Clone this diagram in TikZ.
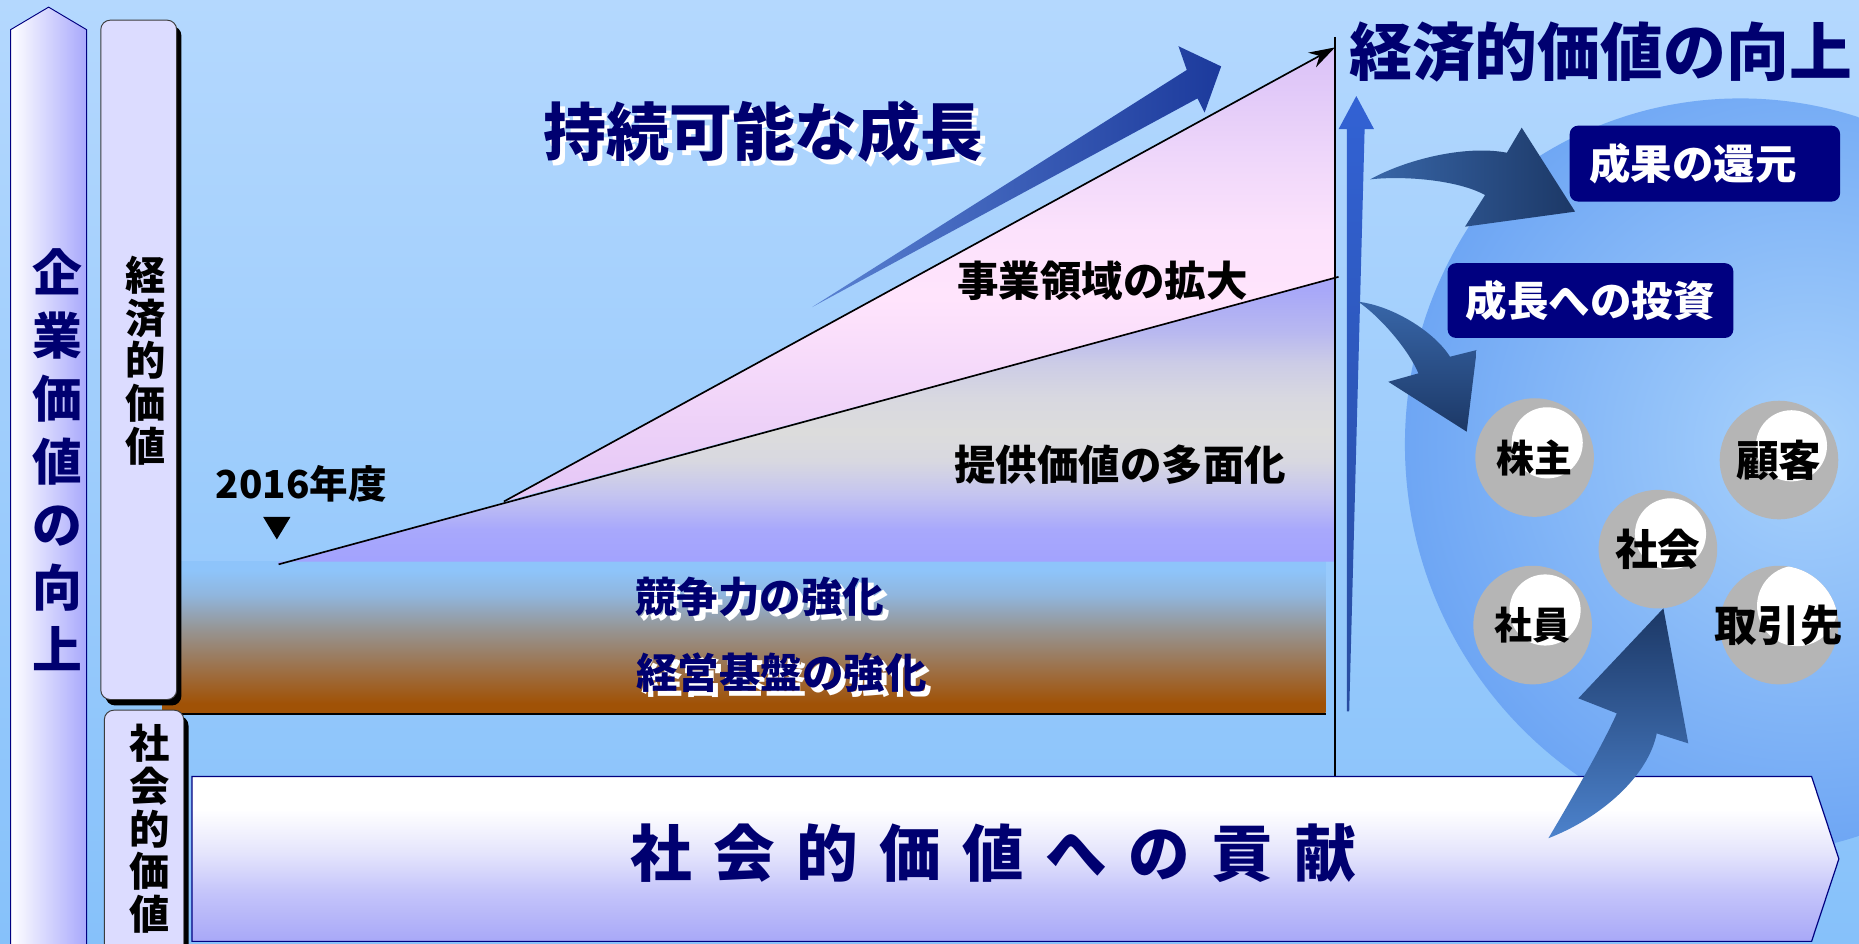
\documentclass[tikz,border=0pt]{standalone}
\usepackage{fontspec}
\setmainfont{Noto Sans CJK JP}
\usetikzlibrary{arrows.meta,shadows}
\definecolor{bgtop}{RGB}{180,216,254}
\definecolor{bgbot}{RGB}{134,193,250}
\definecolor{navytxt}{RGB}{0,0,112}
\definecolor{navybox}{RGB}{0,0,128}
\definecolor{lav}{RGB}{168,168,252}
\definecolor{boxfill}{RGB}{220,220,255}
\definecolor{circgray}{RGB}{181,181,181}
\definecolor{bigin}{RGB}{168,210,252}
\definecolor{bigout}{RGB}{110,166,244}
\definecolor{arrdark}{RGB}{28,56,102}
\definecolor{arrmid}{RGB}{76,130,204}
\definecolor{arrlight}{RGB}{56,102,168}
\definecolor{b1}{RGB}{160,82,6}
\definecolor{b2}{RGB}{158,106,58}
\definecolor{b3}{RGB}{150,150,150}
\definecolor{b4}{RGB}{144,182,222}
\definecolor{b5}{RGB}{142,196,250}
\definecolor{l1}{RGB}{162,162,254}
\definecolor{l2}{RGB}{168,168,252}
\definecolor{l3}{RGB}{196,196,240}
\definecolor{l4}{RGB}{216,216,224}
\definecolor{l5}{RGB}{220,220,220}
\definecolor{l6}{RGB}{204,204,230}
\definecolor{l7}{RGB}{184,184,240}
\definecolor{l8}{RGB}{168,168,248}
\definecolor{u1}{RGB}{228,198,246}
\definecolor{u2}{RGB}{236,208,248}
\definecolor{u3}{RGB}{255,228,252}
\definecolor{u4}{RGB}{252,226,252}
\definecolor{u5}{RGB}{240,216,250}
\definecolor{u6}{RGB}{220,196,248}
\definecolor{w1}{RGB}{168,168,248}
\definecolor{w2}{RGB}{196,196,250}
\definecolor{w3}{RGB}{228,228,252}
\definecolor{w4}{RGB}{255,255,255}
\definecolor{tallA}{RGB}{50,98,212}
\definecolor{tallB}{RGB}{40,76,160}
\definecolor{diagA}{RGB}{90,130,210}
\definecolor{diagB}{RGB}{28,58,156}
\pgfdeclareverticalshading{bandsh}{100bp}{color(0bp)=(b1); color(25bp)=(b1); color(28bp)=(b1); color(37bp)=(b2); color(53bp)=(b3); color(64bp)=(b4); color(72bp)=(b5); color(75bp)=(b5); color(100bp)=(b5)}
\pgfdeclareverticalshading{lowsh}{100bp}{color(0bp)=(l1); color(25bp)=(l1); color(31bp)=(l2); color(37bp)=(l3); color(43bp)=(l4); color(48bp)=(l5); color(54bp)=(l4); color(60bp)=(l6); color(65.5bp)=(l7); color(72.7bp)=(l8); color(75bp)=(l8); color(100bp)=(l8)}
\pgfdeclareverticalshading{upsh}{100bp}{color(0bp)=(u1); color(25bp)=(u1); color(32.6bp)=(u2); color(47.4bp)=(u3); color(54.8bp)=(u4); color(62.3bp)=(u5); color(73.5bp)=(u6); color(75bp)=(u6); color(100bp)=(u6)}
\pgfdeclareverticalshading{botsh}{100bp}{color(0bp)=(w1); color(25bp)=(w1); color(39.7bp)=(w2); color(51.6bp)=(w3); color(65bp)=(w4); color(100bp)=(w4)}
\newcommand\fsz[1]{\bfseries\fontsize{#1}{#1}\selectfont}
\newcommand\vfs[2]{\bfseries\fontsize{#1}{#2}\selectfont}
\newcommand\bubblenode[8]{%
  \node[bubble] (#1) at (#2,#3) {};
  \begin{scope}
    \clip (#2,#3) circle (50pt);
    \fill[white] (#4,#5) circle (#6pt);
  \end{scope}
  \node[bubtxt, font=\fsz{#8}] (#1t) at (#2,#3) {#7};
}
\begin{document}
\begin{tikzpicture}[x=1pt,y=-1pt,
  vtxt/.style={align=center, inner sep=0pt},
  chartline/.style={black, line width=1.4pt},
  labelbox/.style={draw={rgb,255:red,60;green,60;blue,60}, line width=0.8pt, fill=boxfill,
     rounded corners=8pt, inner sep=0pt,
     drop shadow={shadow xshift=4pt, shadow yshift=-5pt, fill=black, opacity=1}},
  darkbox/.style={fill=navybox, rounded corners=7pt, inner sep=0pt},
  wtxt/.style={text=white, inner sep=0pt},
  bubble/.style={circle, fill=circgray, minimum size=100pt, inner sep=0pt},
  bubtxt/.style={inner sep=0pt, text=black},
  shadowtxt/.style={text=white, inner sep=0pt},
  maintxt/.style={text=navytxt, inner sep=0pt},
  plaintxt/.style={text=black, inner sep=0pt}
]
\useasboundingbox (0,0) rectangle (1568,795.4);
% background
\shade[top color=bgtop, bottom color=bgbot] (0,0) rectangle (1568,795.4);
% big circle on the right
\begin{scope}
  \clip (1468,402) circle (319pt);
  \shade[inner color=bigin, outer color=bigout] (1525,375) circle (340pt);
\end{scope}

% chart band and regions (behind the label boxes)
\coordinate (p0) at (235,476);
\coordinate (p1) at (425,423);
\coordinate (p2) at (1129,233.5);
\coordinate (p3) at (1126,40);
\coordinate (v0) at (1126,31);
\coordinate (v1) at (1126,655);
\shade[shading=bandsh] (137,473.5) rectangle (1118,601);
\draw[black, line width=2pt] (140,602) -- (1118,602);
\shade[shading=lowsh] (235,475.5) -- (1126,234) -- (1126,473.6) -- (235,473.6) -- cycle;
\shade[shading=upsh] (p1) -- (1126,41) -- (1126,234.3) -- cycle;
\draw[chartline] (p0) -- (p2);
\draw[chartline, -{Stealth[length=22pt, width=14pt]}] (p1) -- (p3);
\draw[black, line width=1.6pt] (v0) -- (v1);

% left arrow bar
\shadedraw[left color=white, right color=lav, draw=navybox, line width=0.8pt]
  (9,800) -- (9,25) -- (41,6) -- (73,25) -- (73,800) -- cycle;
\node[vtxt, text=navytxt, font=\vfs{42}{53}] (corp) at (48,388) {企\\業\\価\\値\\の\\向\\上};

% label boxes
\node[labelbox, minimum width=64pt, minimum height=573pt] (econbox) at (117,303.5) {};
\node[vtxt, font=\vfs{34}{36}] (econtxt) at (123,304) {経\\済\\的\\価\\値};
\node[labelbox, minimum width=67pt, minimum height=221pt] (socbox) at (121.5,709.5) {};
\node[vtxt, font=\vfs{34}{36}] (soctxt) at (126,699) {社\\会\\的\\価\\値};

% diagonal growth arrow
\shade[left color=diagA, right color=diagB]
  (685,259) -- (1010,83) -- (1016,95) -- (1030,56) -- (994,39) -- (1001,59) -- cycle;

% texts in chart
\node[shadowtxt, font=\fsz{53}] (titleS) at (648,115) {持続可能な成長};
\node[maintxt, font=\fsz{53}] (title) at (644,111) {持続可能な成長};
\node[plaintxt, font=\fsz{35}] (jigyo) at (930,237) {事業領域の拡大};
\node[plaintxt, font=\fsz{35}] (teikyo) at (945,392) {提供価値の多面化};
\node[plaintxt, font=\fsz{32.5}] (year) at (254,408) {2016年度};
\fill[black] (222,436) -- (245,436) -- (233.5,455) -- cycle;
\node[shadowtxt, font=\fsz{35}] (kyosoS) at (645.5,507.5) {競争力の強化};
\node[maintxt, font=\fsz{35}] (kyoso) at (641,503) {競争力の強化};
\node[shadowtxt, font=\fsz{35}] (keieiS) at (663.5,571.5) {経営基盤の強化};
\node[maintxt, font=\fsz{35}] (keiei) at (659,567) {経営基盤の強化};
\node[maintxt, font=\fsz{53}] (econup) at (1350,44) {経済的価値の向上};

% tall blue arrow
\shade[top color=tallA, bottom color=tallB]
  (1144,81) -- (1159,109) -- (1151,109) -- (1138,600) -- (1136,600) -- (1136,109) -- (1129,109) -- cycle;

% curved arrows
\shade[left color=arrlight, middle color=arrmid, right color=arrdark]
  (1155.6,151.3) .. controls (1185,135) and (1235,122) .. (1271,128.8)
  -- (1283.5,107.7) -- (1328.5,178.5) -- (1235.7,191.2) -- (1252.6,164.5)
  .. controls (1230,152) and (1185,148) .. cycle;
\shade[top color=arrlight, middle color=arrmid, bottom color=arrdark]
  (1145.7,254.5) .. controls (1175,258) and (1210,280) .. (1223,300.9)
  -- (1245.6,295.2) -- (1237.1,364.1) -- (1171,322) -- (1196.4,314.9)
  .. controls (1188,295) and (1165,268) .. cycle;

% dark boxes
\node[darkbox, minimum width=228pt, minimum height=64pt] (seikabox) at (1438,138) {};
\node[wtxt, font=\fsz{35}] (seika) at (1428,138) {成果の還元};
\node[darkbox, minimum width=241pt, minimum height=63pt] (seichobox) at (1341.5,253.5) {};
\node[wtxt, font=\fsz{35}] (seicho) at (1341.5,253.5) {成長への投資};

% stakeholder bubbles
\bubblenode{kabu}{1294.4}{385.9}{1305}{373.5}{30}{株主}{32}
\bubblenode{kokyaku}{1500.5}{388}{1511}{376}{30}{顧客}{36}
\bubblenode{shakai}{1398.4}{463.2}{1409}{450.3}{30}{社会}{36}
\bubblenode{shain}{1292.7}{527.2}{1303.2}{514.5}{30}{社員}{32}
\bubblenode{torihiki}{1500.5}{527.2}{1516}{511}{34}{取引先}{36}

% bottom arrow box
\shade[shading=botsh] (162,655) -- (1528,655) -- (1551,724.5) -- (1528,794) -- (162,794) -- cycle;
\draw[navybox, line width=1pt] (162,655) -- (1528,655) -- (1551,724.5) -- (1528,794) -- (162,794) -- cycle;
\node[maintxt, font=\fsz{52}] (contrib) at (838,720)
  {社\hspace{18pt}会\hspace{18pt}的\hspace{18pt}価\hspace{18pt}値\hspace{18pt}へ\hspace{18pt}の\hspace{18pt}貢\hspace{18pt}献};

% arrow from social contribution up to society
\shade[bottom color=arrmid, middle color=arrlight, top color=arrdark]
  (1306,707) .. controls (1325,675) and (1352,628) .. (1363.7,601.7)
  -- (1331.3,589) -- (1403,513.1) -- (1424,627) -- (1397.4,618.6)
  .. controls (1390,655) and (1350,690) .. cycle;
\end{tikzpicture}
\end{document}
